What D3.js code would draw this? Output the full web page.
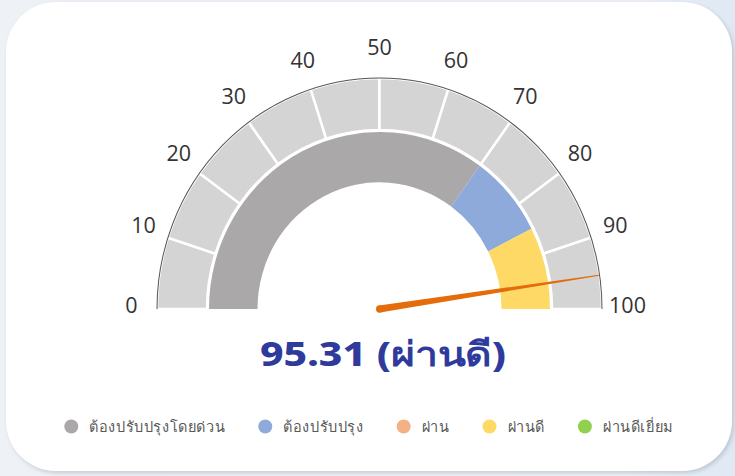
<!DOCTYPE html>
<html>
<head>
<meta charset="utf-8">
<script src="https://cdn.jsdelivr.net/npm/d3@7"></script>
<style>
  html, body { margin: 0; padding: 0; }
  body { width: 735px; height: 476px; overflow: hidden; background: #eef1f6; }
</style>
</head>
<body>
<div id="chart"></div>
<script>
// ค่าของเกจ
var score = 95.31;
var scoreLabel = "ผ่านดี";
var tickValues = [0, 10, 20, 30, 40, 50, 60, 70, 80, 90, 100];
var bandBreaks = [0, 70, 85, 100];
var bandNames = ["ต้องปรับปรุงโดยด่วน", "ต้องปรับปรุง", "ผ่านดี"];
var legendLabels = ["ต้องปรับปรุงโดยด่วน", "ต้องปรับปรุง", "ผ่าน", "ผ่านดี", "ผ่านดีเยี่ยม"];
var legendColors = ["#aba8a9", "#8eaadb", "#f4b183", "#ffd966", "#92d050"];

var width = 735, height = 476;
var cx = 379.5, cy = 309, yStretch = 1.038;

var color = d3.scaleOrdinal().domain(legendLabels).range(legendColors);
var angle = d3.scaleLinear().domain([0, 100]).range([-Math.PI / 2, Math.PI / 2]);

var svg = d3.select("#chart").append("svg")
    .attr("width", width)
    .attr("height", height);

var defs = svg.append("defs");
var grad = defs.append("linearGradient").attr("id", "bg").attr("x1", 0).attr("x2", 1).attr("y1", 0).attr("y2", 0);
grad.append("stop").attr("offset", "0%").attr("stop-color", "#eef1f6");
grad.append("stop").attr("offset", "85%").attr("stop-color", "#edf1f6");
grad.append("stop").attr("offset", "100%").attr("stop-color", "#dfe9f4");
var shadow = defs.append("filter").attr("id", "shadow").attr("x", -0.1).attr("y", -0.1).attr("width", 1.2).attr("height", 1.2);
shadow.append("feDropShadow").attr("dx", 2).attr("dy", 2).attr("stdDeviation", 2).attr("flood-color", "#9aa3ad").attr("flood-opacity", 0.5);

svg.append("rect").attr("width", width).attr("height", height).attr("fill", "url(#bg)");

// carte blanche
svg.append("rect")
    .attr("x", 6).attr("y", 2)
    .attr("width", 726).attr("height", 469)
    .attr("rx", 50).attr("ry", 50)
    .attr("fill", "#fff")
    .attr("filter", "url(#shadow)");

var g = svg.append("g")
    .attr("transform", "translate(" + cx + "," + cy + ") scale(1," + yStretch + ")");

// anneau extérieur (graduations)
var outerArc = d3.arc().innerRadius(172.5).outerRadius(222.5);
var segments = d3.pairs(tickValues);
g.selectAll(".seg")
    .data(segments)
    .enter()
    .append("path")
    .attr("class", "seg")
    .attr("d", function(d) { return outerArc({ startAngle: angle(d[0]), endAngle: angle(d[1]) }); })
    .attr("fill", "#d4d4d4")
    .attr("stroke", "#fff")
    .attr("stroke-width", 2.5);

// bordure extérieure
g.append("path")
    .attr("d", d3.arc().innerRadius(222.5).outerRadius(222.5)({ startAngle: angle(0), endAngle: angle(100) }))
    .attr("fill", "none")
    .attr("stroke", "#555")
    .attr("stroke-width", 1);

// bandes colorées
var bandArc = d3.arc().innerRadius(122).outerRadius(170.5);
g.selectAll(".band")
    .data(d3.pairs(bandBreaks))
    .enter()
    .append("path")
    .attr("class", "band")
    .attr("d", function(d) { return bandArc({ startAngle: angle(d[0]), endAngle: angle(d[1]) }); })
    .attr("fill", function(d, i) { return color(bandNames[i]); });

// aiguille
var a = angle(score);
var len = 222;
var dir = [Math.sin(a), -Math.cos(a)];
var perp = [Math.cos(a), Math.sin(a)];
var w0 = 3.5, w1 = 0.5;
var pts = [
    [perp[0] * w0, perp[1] * w0],
    [dir[0] * len + perp[0] * w1, dir[1] * len + perp[1] * w1],
    [dir[0] * len - perp[0] * w1, dir[1] * len - perp[1] * w1],
    [-perp[0] * w0, -perp[1] * w0]
];
g.append("path")
    .attr("d", "M" + pts.map(function(p) { return p.join(","); }).join("L") + "Z")
    .attr("fill", "#e46c0a");
g.append("circle").attr("r", w0).attr("fill", "#e46c0a");

// étiquettes des graduations
var labelR = 248;
svg.selectAll(".tick")
    .data(tickValues)
    .enter()
    .append("text")
    .attr("class", "tick")
    .attr("x", function(d) { return cx + labelR * Math.sin(angle(d)); })
    .attr("y", function(d) { return cy + 3.5 - labelR * yStretch * Math.cos(angle(d)); })
    .attr("text-anchor", "middle")
    .attr("font-family", "'Open Sans', sans-serif")
    .attr("font-size", 21.5)
    .attr("fill", "#333")
    .text(function(d) { return d; });

// valeur
svg.append("text")
    .attr("x", 383)
    .attr("y", 366)
    .attr("text-anchor", "middle")
    .attr("font-family", "'Noto Sans', sans-serif")
    .attr("font-weight", 800)
    .attr("font-size", 34)
    .attr("textLength", 246)
    .attr("lengthAdjust", "spacingAndGlyphs")
    .attr("fill", "#2e3b9d")
    .text(score + " (" + scoreLabel + ")");

// légende
var legend = svg.append("g").attr("class", "legend");
var items = legend.selectAll(".legend-item")
    .data(legendLabels)
    .enter()
    .append("g")
    .attr("class", "legend-item");
items.append("circle")
    .attr("r", 7)
    .attr("cy", 426.5)
    .attr("fill", function(d) { return color(d); });
items.append("text")
    .attr("x", 18)
    .attr("y", 432)
    .attr("font-family", "'Noto Sans', sans-serif")
    .attr("font-size", 14.5)
    .attr("letter-spacing", 0.6)
    .attr("fill", "#595959")
    .text(function(d) { return d; });

var xPos = 0;
items.each(function() {
    var tw = d3.select(this).select("text").node().getComputedTextLength();
    d3.select(this).attr("transform", "translate(" + xPos + ",0)");
    xPos += 18 + tw + 40;
});
var total = xPos - 40 + 7;
legend.attr("transform", "translate(" + (369 - total / 2 + 7) + ",0)");
</script>
</body>
</html>
